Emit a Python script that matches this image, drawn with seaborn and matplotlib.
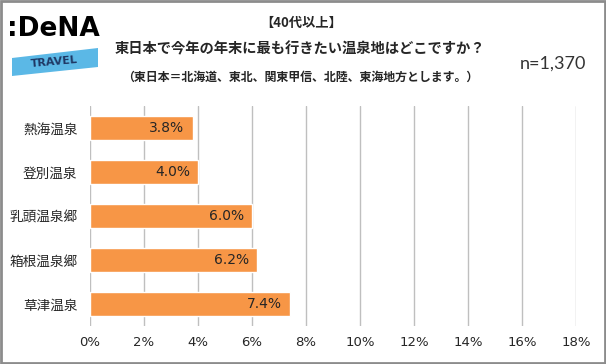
import numpy as np
import pandas as pd
import matplotlib
matplotlib.use("Agg")
import matplotlib.pyplot as plt
from matplotlib.patches import Polygon, Rectangle
import seaborn as sns

sns.set_theme(style="whitegrid")
plt.rcParams['font.family'] = ['Noto Sans CJK JP', 'DejaVu Sans']

# data
spots = ["熱海温泉", "登別温泉", "乳頭温泉郷", "箱根温泉郷", "草津温泉"]
shares = [3.8, 4.0, 6.0, 6.2, 7.4]
xticks = [0, 2, 4, 6, 8, 10, 12, 14, 16, 18]

df = pd.DataFrame({"spot": spots, "share": shares})

W, H = 606, 364
fig = plt.figure(figsize=(W / 100, H / 100), dpi=100)
fig.patch.set_facecolor("white")

def fx(px):
    return px / W

def fy(py):
    return 1 - py / H

ax = fig.add_axes([fx(90), fy(326), fx(576) - fx(90), fy(106) - fy(326)])
sns.barplot(data=df, x="share", y="spot", orient="h", color="#F79646",
            saturation=1, width=0.55, ax=ax)

ax.set_xlim(0, 18)
ax.set_xticks(xticks)
ax.set_xticklabels([f"{t}%" for t in xticks], fontsize=9.5, color="#262626",
                   family=['DejaVu Sans'])
ax.tick_params(axis="y", labelsize=9.8, colors="#262626", pad=9, length=0)
ax.tick_params(axis="x", pad=7, length=0)
ax.set_xlabel("")
ax.set_ylabel("")
ax.grid(axis="x", color="#BFBFBF", linewidth=1)
ax.grid(axis="y", visible=False)
for s in ax.spines.values():
    s.set_visible(False)
ax.set_facecolor("white")

for i, v in enumerate(shares):
    ax.text(v - 0.3, i, f"{v:.1f}%", ha="right", va="center", fontsize=10,
            color="#262626", family=['DejaVu Sans'])

# titles
fig.text(fx(301), fy(23), "【40代以上】", ha="center", va="center",
         fontsize=9.5, fontweight="bold", color="#262626")
fig.text(fx(300), fy(49), "東日本で今年の年末に最も行きたい温泉地はどこですか？",
         ha="center", va="center", fontsize=10.3, fontweight="bold", color="#262626")
fig.text(fx(300), fy(77), "（東日本＝北海道、東北、関東甲信、北陸、東海地方とします。）",
         ha="center", va="center", fontsize=8.6, fontweight="bold", color="#262626")
fig.text(fx(553), fy(64), "n=1,370", ha="center", va="center", fontsize=13,
         color="#333333", family=['Lato', 'DejaVu Sans'])

# logo
fig.text(fx(53), fy(29), ":DeNA", ha="center", va="center", fontsize=19,
         fontweight="bold", color="black", family=['DejaVu Sans'])
band = Polygon([[fx(12), fy(58)], [fx(98), fy(48)], [fx(98), fy(67)], [fx(12), fy(76)]],
               closed=True, transform=fig.transFigure, facecolor="#5BB8E6",
               edgecolor="none")
fig.patches.append(band)
fig.text(fx(54), fy(62), "TRAVEL", ha="center", va="center", fontsize=8,
         fontweight="bold", color="#1F3864", rotation=5, family=['DejaVu Sans'])

# outer frame
fig.patches.append(Rectangle((0.001, 0.002), 0.997, 0.995, transform=fig.transFigure,
                             fill=False, edgecolor="#8C8C8C", linewidth=2))

fig.savefig("out.png", dpi=100)
